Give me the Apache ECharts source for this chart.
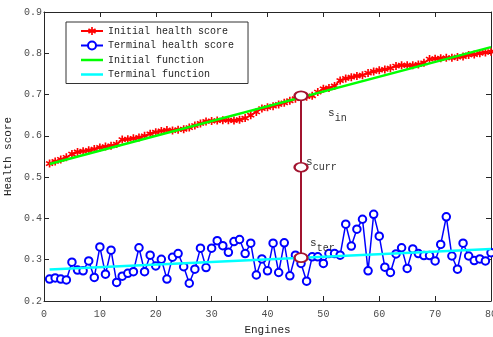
<!DOCTYPE html>
<html><head><meta charset="utf-8">
<script src="https://cdn.jsdelivr.net/npm/echarts@6/dist/echarts.min.js"></script>
<style>html,body{margin:0;padding:0;background:#fff}#c{width:493px;height:337px}</style>
</head><body><div id="c"></div>
<script>
const engines = [];
for (let i = 1; i <= 80; i++) engines.push(i);
const initialScore = [
0.533,0.538,0.543,0.548,0.556,0.561,0.563,0.565,0.568,0.572,
0.574,0.576,0.580,0.591,0.592,0.594,0.596,0.600,0.605,0.609,
0.612,0.614,0.613,0.615,0.616,0.620,0.625,0.630,0.635,0.636,
0.637,0.638,0.638,0.637,0.639,0.643,0.650,0.658,0.666,0.669,
0.672,0.676,0.680,0.685,0.690,0.693,0.695,0.697,0.706,0.714,
0.716,0.721,0.734,0.739,0.742,0.745,0.747,0.752,0.756,0.759,
0.761,0.764,0.769,0.771,0.771,0.771,0.773,0.777,0.786,0.787,
0.788,0.789,0.789,0.791,0.792,0.796,0.797,0.800,0.802,0.804];
const terminalScore = [
0.253,0.256,0.253,0.251,0.294,0.275,0.273,0.297,0.257,0.331,
0.265,0.323,0.245,0.260,0.267,0.271,0.329,0.271,0.311,0.285,
0.301,0.253,0.306,0.315,0.283,0.243,0.277,0.328,0.281,0.328,
0.346,0.334,0.318,0.344,0.349,0.315,0.340,0.263,0.302,0.273,
0.340,0.269,0.341,0.261,0.311,0.291,0.248,0.307,0.307,0.291,
0.315,0.315,0.311,0.386,0.333,0.374,0.398,0.273,0.410,0.357,
0.282,0.269,0.314,0.329,0.279,0.326,0.315,0.310,0.310,0.297,
0.337,0.404,0.309,0.277,0.340,0.309,0.298,0.302,0.297,0.317];
const initialFunctionX = [1, 80];
const initialFunctionY = [0.532, 0.815];
const terminalFunctionX = [1, 80];
const terminalFunctionY = [0.276, 0.326];
const currentEngine = 46;
const stateNames = ['in', 'curr', 'ter'];
const stateValues = [0.697, 0.524, 0.305];
const seriesNames = ['Initial health score', 'Terminal health score', 'Initial function', 'Terminal function'];

const FONT = 'Liberation Mono';
const AX = '#262626';
const TXT = '#4d4d4d';
const MAROON = '#A2142F';
const zip = (xs, ys) => xs.map((x, i) => [x, ys[i]]);

const labelOffsets = { in: [27, 12], curr: [5, -11], ter: [9, -20] };
const stateData = stateNames.map((n, i) => ({
  value: [currentEngine, stateValues[i]],
  label: {
    show: true, position: 'inside', align: 'left', verticalAlign: 'top',
    offset: labelOffsets[n],
    formatter: '{s|s}{sub|' + n + '}',
    rich: {
      s: { fontFamily: FONT, fontSize: 11, color: '#333', verticalAlign: 'top' },
      sub: { fontFamily: FONT, fontSize: 10, color: '#333', verticalAlign: 'top', padding: [6, 0, 0, 0] }
    }
  }
}));

const asterisk = 'path://M4,0h2v3.2l2.8-1.6 1,1.7L7,5l2.8,1.6-1,1.7L6,6.8V10H4V6.8L1.2,8.4l-1-1.7L3,5 0.2,3.4l1-1.7L4,3.2z';
const barIcon = 'path://M0,0H22V2.5H0Z';

const axCommon = {
  type: 'value',
  axisLine: { onZero: false, lineStyle: { color: AX, width: 1 } },
  axisTick: { inside: true, length: 5, lineStyle: { color: AX } },
  splitLine: { show: false }
};

const option = {
  animation: false,
  grid: { left: 44, right: 2, top: 12, bottom: 36, outerBoundsMode: 'none', containLabel: false },
  xAxis: [
    Object.assign({}, axCommon, {
      min: 0, max: 80, interval: 10, position: 'bottom',
      name: 'Engines', nameLocation: 'middle', nameGap: 24,
      nameTextStyle: { fontFamily: FONT, fontSize: 11, color: AX },
      axisLabel: { fontFamily: FONT, fontSize: 10, color: TXT, margin: 8 }
    }),
    Object.assign({}, axCommon, {
      min: 0, max: 80, interval: 10, position: 'top', axisLabel: { show: false }
    })
  ],
  yAxis: [
    Object.assign({}, axCommon, {
      min: 0.2, max: 0.9, interval: 0.1, position: 'left',
      name: 'Health score', nameLocation: 'middle', nameGap: 20,
      nameTextStyle: { fontFamily: FONT, fontSize: 11, color: AX },
      axisLabel: { fontFamily: FONT, fontSize: 10, color: TXT, margin: 2, formatter: v => v.toFixed(1) }
    }),
    Object.assign({}, axCommon, {
      min: 0.2, max: 0.9, interval: 0.1, position: 'right', axisLabel: { show: false }
    })
  ],
  legend: {
    data: [
      { name: seriesNames[0] },
      { name: seriesNames[1] },
      { name: seriesNames[2], icon: barIcon },
      { name: seriesNames[3], icon: barIcon }
    ],
    orient: 'vertical', left: 66, top: 22,
    itemWidth: 22, itemHeight: 10, itemGap: 4.5,
    padding: [4, 14, 4, 14],
    backgroundColor: '#fff', borderColor: '#333', borderWidth: 1, borderRadius: 0,
    textStyle: { fontFamily: FONT, fontSize: 10, color: AX }
  },
  series: [
    {
      name: seriesNames[0], type: 'line', data: zip(engines, initialScore),
      symbol: asterisk, symbolSize: 8, showAllSymbol: true,
      lineStyle: { color: '#ff0000', width: 1.5 },
      itemStyle: { color: '#ff0000' }, z: 2
    },
    {
      name: seriesNames[1], type: 'line', data: zip(engines, terminalScore),
      symbol: 'emptyCircle', symbolSize: 7.5, showAllSymbol: true,
      lineStyle: { color: '#0000ff', width: 1.5 },
      itemStyle: { color: '#0000ff', borderColor: '#0000ff', borderWidth: 1.5 }, z: 2
    },
    {
      name: seriesNames[2], type: 'line', data: zip(initialFunctionX, initialFunctionY),
      symbol: 'none', lineStyle: { color: '#00ff00', width: 2.5 }, itemStyle: { color: '#00ff00' }, z: 3
    },
    {
      name: seriesNames[3], type: 'line', data: zip(terminalFunctionX, terminalFunctionY),
      symbol: 'none', lineStyle: { color: '#00ffff', width: 2.5 }, itemStyle: { color: '#00ffff' }, z: 3
    },
    {
      name: 'state', type: 'line',
      data: [[currentEngine, stateValues[2]], [currentEngine, stateValues[0]]],
      symbol: 'none', lineStyle: { color: MAROON, width: 2 }, z: 4
    },
    {
      name: 'stateMarks', type: 'scatter', data: stateData,
      symbol: 'emptyCircle', symbolSize: [13, 9],
      itemStyle: { color: MAROON, opacity: 1, borderColor: MAROON, borderWidth: 2 },
      z: 5
    }
  ]
};
const chart = echarts.init(document.getElementById('c'));
chart.setOption(option);
</script></body></html>
